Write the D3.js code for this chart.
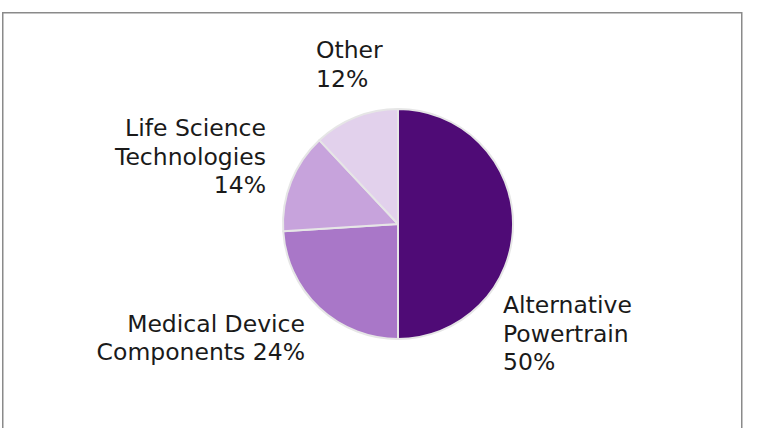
<!DOCTYPE html>
<html>
<head>
<meta charset="utf-8">
<script src="https://cdn.jsdelivr.net/npm/d3@7"></script>
<style>
  html, body { margin: 0; padding: 0; background: #fff; }
  svg { display: block; }
</style>
</head>
<body>
<svg id="chart" width="763" height="428"></svg>
<script>
const categories = ["Alternative Powertrain", "Medical Device Components", "Life Science Technologies", "Other"];
const values = [50, 24, 14, 12];
const colors = ["#4f0b76", "#a977c8", "#c7a3dc", "#e2d1ec"];
const labelLines = [
  ["Alternative", "Powertrain", "50%"],
  ["Medical Device", "Components 24%"],
  ["Life Science", "Technologies", "14%"],
  ["Other", "12%"]
];

const svg = d3.select("#chart");

svg.append("rect")
  .attr("x", 2.75).attr("y", 12.75)
  .attr("width", 739).attr("height", 440)
  .attr("fill", "#fff")
  .attr("stroke", "#8a8a8a")
  .attr("stroke-width", 1.5);

const cx = 398, cy = 224, R = 115;
const g = svg.append("g").attr("transform", `translate(${cx},${cy})`);

const pie = d3.pie().sort(null).value(d => d)(values);
const arc = d3.arc().innerRadius(0).outerRadius(R);

g.selectAll("path").data(pie).join("path")
  .attr("d", arc)
  .attr("fill", (d, i) => colors[i])
  .attr("stroke", "#e6e6e6")
  .attr("stroke-width", 2)
  .attr("stroke-linejoin", "round");

const labelPos = [
  { x: 503, y: 313, anchor: "start" },
  { x: 305, y: 331.5, anchor: "end" },
  { x: 266, y: 136, anchor: "end" },
  { x: 316, y: 58, anchor: "start" }
];
const lineH = 28.5;

labelLines.forEach((lines, i) => {
  const p = labelPos[i];
  const t = svg.append("text")
    .attr("x", p.x).attr("y", p.y)
    .attr("text-anchor", p.anchor)
    .attr("font-family", "Verdana, 'DejaVu Sans', sans-serif")
    .attr("font-size", 23.5)
    .attr("fill", "#1a1a1a");
  lines.forEach((ln, j) => {
    t.append("tspan").attr("x", p.x).attr("y", p.y + j * lineH).text(ln);
  });
});
</script>
</body>
</html>
